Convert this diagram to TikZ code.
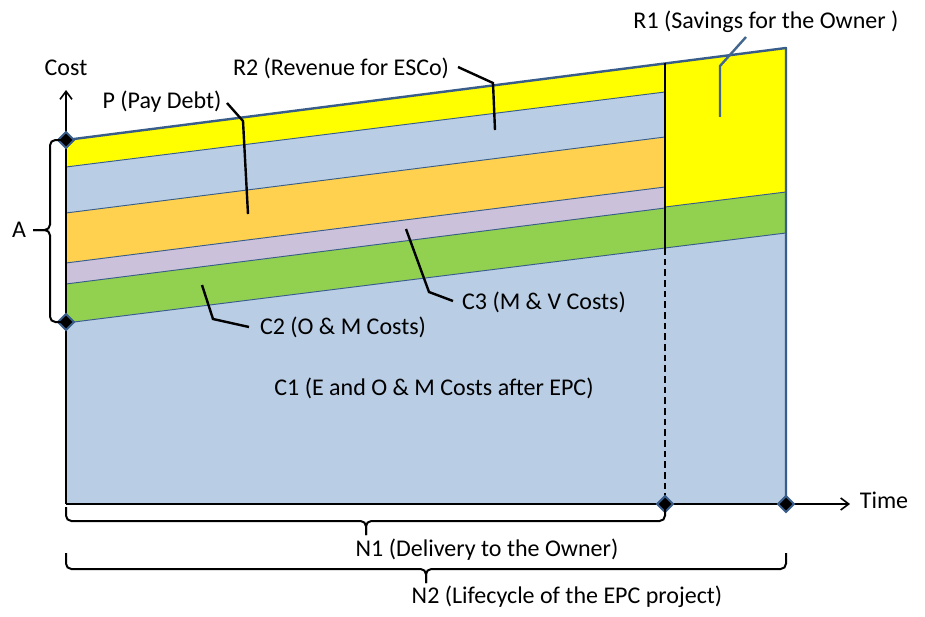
\documentclass[tikz,border=0pt]{standalone}
\usepackage{fontspec}
\setmainfont{Carlito}
\usetikzlibrary{arrows.meta,shapes.geometric}
\definecolor{cyel}{HTML}{FFFF00}
\definecolor{cblue}{HTML}{B9CDE5}
\definecolor{corg}{HTML}{FFD14F}
\definecolor{cpur}{HTML}{CCC1DA}
\definecolor{cgrn}{HTML}{92D050}
\definecolor{cline}{HTML}{385D8A}
\definecolor{cldr}{HTML}{43668F}
\begin{document}
\begin{tikzpicture}[x=0.75pt,y=-0.75pt,
  lbl/.style={font=\fontsize{18}{21}\selectfont, inner sep=0pt},
  sepline/.style={draw=cline, line width=0.7pt},
  outl/.style={draw=cline, line width=1.8pt, line join=round},
  divline/.style={draw=black, line width=1.5pt},
  axisline/.style={draw=black, line width=1.5pt, -{Straight Barb[length=6pt,width=9pt,line width=1.2pt]}},
  dmd/.style={diamond, draw=cline, fill=black, line width=1.5pt, inner sep=0pt, minimum size=12.5pt},
  brc/.style={draw=black, line width=1.5pt, rounded corners=4pt},
  ldr/.style={draw=black, line width=1.8pt},
  ldrb/.style={draw=cldr, line width=1.8pt}]
\useasboundingbox (0,0) rectangle (925,617);
% layers left part
\fill[cyel] (66,140) -- (665,63.5) -- (665,92) -- (66,167) -- cycle;
\fill[cblue] (66,167) -- (665,92) -- (665,137) -- (66,213) -- cycle;
\fill[corg] (66,213) -- (665,137) -- (665,187) -- (66,263) -- cycle;
\fill[cpur] (66,263) -- (665,187) -- (665,208) -- (66,284) -- cycle;
\fill[cgrn] (66,284) -- (665,208) -- (665,248) -- (66,323) -- cycle;
\fill[cblue] (66,323) -- (665,248) -- (786,233) -- (786,504) -- (66,504) -- cycle;
% layers right part
\fill[cyel] (665,63.5) -- (786,48) -- (786,192) -- (665,207) -- cycle;
\fill[cgrn] (665,207) -- (786,192) -- (786,233) -- (665,248) -- cycle;
% separating lines
\draw[sepline] (66,167) -- (665,92);
\draw[sepline] (66,213) -- (665,137);
\draw[sepline] (66,263) -- (665,187);
\draw[sepline] (66,284) -- (665,208);
\draw[sepline] (66,323) -- (665,248) -- (786,233);
\draw[sepline] (665,207) -- (786,192);
% outline
\draw[outl] (66,140) -- (786,48) -- (786,504);
% divider
\draw[divline] (665,63.5) -- (665,248);
\draw[divline, dash pattern=on 5pt off 3pt] (665,248) -- (665,504);
% axes
\coordinate (orig) at (66,504);
\coordinate (ytip) at (66,90);
\coordinate (xtip) at (850,504);
\draw[axisline] (orig) -- (ytip);
\draw[axisline] (orig) -- (xtip);
% diamonds
\node[dmd] (d1) at (66,140) {};
\node[dmd] (d2) at (66,322) {};
\node[dmd] (d3) at (665,504) {};
\node[dmd] (d4) at (786,504) {};
% braces
\coordinate (a1) at (66,140);
\coordinate (a2) at (66,322);
\coordinate (at) at (33,230);
\draw[brc] (a1) -- (50,140) -- (50,230) -- (at);
\draw[brc] (a2) -- (50,322) -- (50,230) -- (at);
\coordinate (n1a) at (66,507);
\coordinate (n1b) at (665,507);
\coordinate (n1t) at (366,535);
\draw[brc] (n1a) -- (66,521) -- (366,521) -- (n1t);
\draw[brc] (n1b) -- (665,521) -- (366,521) -- (n1t);
\coordinate (n2a) at (66,553);
\coordinate (n2b) at (786,553);
\coordinate (n2t) at (426,583);
\draw[brc] (n2a) -- (66,569) -- (426,569) -- (n2t);
\draw[brc] (n2b) -- (786,569) -- (426,569) -- (n2t);
% labels
\node[lbl] (cost) at (66,68) {Cost};
\node[lbl] (time) at (884,500) {Time};
\node[lbl] (A) at (19,230) {A};
\node[lbl] (R2) at (341,68) {R2 (Revenue for ESCo)};
\node[lbl] (P) at (162,102) {P (Pay Debt)};
\node[lbl] (R1) at (766,22) {R1 (Savings for the Owner )};
\node[lbl] (C3) at (544,302) {C3 (M \& V Costs)};
\node[lbl] (C2) at (343,327) {C2 (O \& M Costs)};
\node[lbl] (C1) at (434,388) {C1 (E and O \& M Costs after EPC)};
\node[lbl] (N1) at (487,550) {N1 (Delivery to the Owner)};
\node[lbl] (N2) at (567,597) {N2 (Lifecycle of the EPC project)};
% leaders
\coordinate (r2s) at (458,67);
\coordinate (r2e) at (495,130);
\draw[ldr] (r2s) -- (493,83) -- (r2e);
\coordinate (ps) at (227,103);
\coordinate (pe) at (248,214);
\draw[ldr] (ps) -- (243,121) -- (pe);
\coordinate (r1s) at (746,37);
\coordinate (r1e) at (720,117);
\draw[ldrb] (r1s) -- (720,66) -- (r1e);
\coordinate (c3s) at (406,229);
\coordinate (c3e) at (453,301);
\draw[ldr] (c3s) -- (429,292) -- (c3e);
\coordinate (c2s) at (202,285);
\coordinate (c2e) at (249,327);
\draw[ldr] (c2s) -- (213,319) -- (c2e);
\end{tikzpicture}
\end{document}
